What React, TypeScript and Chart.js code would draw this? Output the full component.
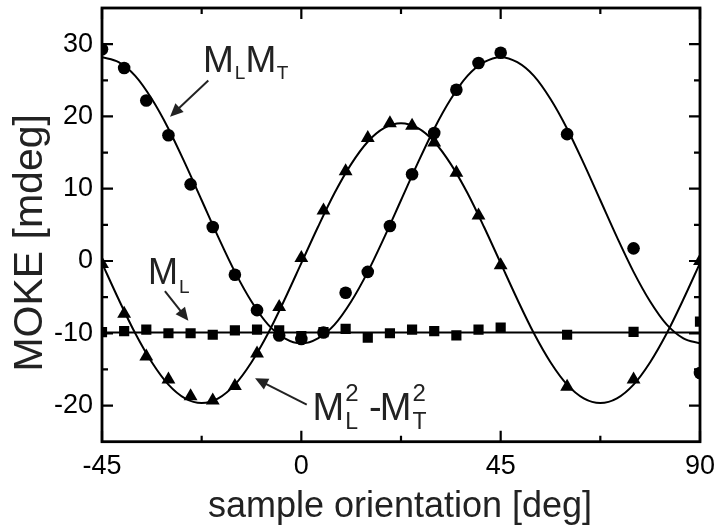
import React, { useEffect, useRef } from "react";
import { Chart, registerables } from "chart.js";

Chart.register(...registerables);

// ---- measured data (sample orientation in deg, MOKE in mdeg) ----
const ANGLES = [-45, -40, -35, -30, -25, -20, -15, -10, -5, 0, 5, 10, 15, 20, 25, 30, 35, 40, 45, 60, 75, 90];
const ML_MT = [29.3, 26.7, 22.2, 17.4, 10.6, 4.7, -1.9, -6.8, -10.3, -10.8, -9.9, -4.4, -1.5, 4.85, 12.0, 17.7, 23.7, 27.4, 28.8, 17.55, 1.75, -15.5];
const ML2_MT2 = [-0.4, -7.3, -13.2, -16.4, -18.7, -19.3, -17.3, -12.8, -6.35, 0.4, 7.0, 12.4, 17.0, 19.05, 18.7, 16.4, 12.2, 6.3, -0.6, -17.4, -16.4, 0];
const ML = [-9.85, -9.7, -9.5, -10.0, -10.0, -10.2, -9.6, -9.5, -9.6, -10.4, -9.85, -9.4, -10.6, -10.0, -9.5, -9.7, -10.3, -9.5, -9.2, -10.2, -9.8, -8.4];

// ---- fitted curves ----
const FIT_ANGLES = [-45, -41.25, -37.5, -33.75, -30, -26.25, -22.5, -18.75, -15, -11.25, -7.5, -3.75, 0, 3.75, 7.5, 11.25, 15, 18.75, 22.5, 26.25, 30, 33.75, 37.5, 41.25, 45, 48.75, 52.5, 56.25, 60, 63.75, 67.5, 71.25, 75, 78.75, 82.5, 86.25, 90];
const FIT_ML_MT = [28.2, 27.5, 25.6, 22.4, 18.3, 13.5, 8.4, 3.3, -1.5, -5.6, -8.8, -10.7, -11.4, -10.7, -8.8, -5.6, -1.5, 3.3, 8.4, 13.5, 18.3, 22.4, 25.6, 27.5, 28.2, 27.5, 25.6, 22.4, 18.3, 13.5, 8.4, 3.3, -1.5, -5.6, -8.8, -10.7, -11.4];
const FIT_ML2_MT2 = [-0.3, -5.3, -10.0, -14.0, -17.1, -19.0, -19.65, -19.0, -17.1, -14.0, -10.0, -5.3, -0.3, 4.7, 9.4, 13.4, 16.5, 18.4, 19.05, 18.4, 16.5, 13.4, 9.4, 4.7, -0.3, -5.3, -10.0, -14.0, -17.1, -19.0, -19.65, -19.0, -17.1, -14.0, -10.0, -5.3, -0.3];
const FIT_ML_ANGLES = [-45, 90];
const FIT_ML = [-9.9, -9.9];

// ---- axes ----
const X_MIN = -45;
const X_MAX = 90;
const Y_MIN = -25;
const Y_MAX = 35;
const X_TICKS = [-45, 0, 45, 90];
const X_MINOR = [-22.5, 22.5, 67.5];
const Y_TICKS = [-20, -10, 0, 10, 20, 30];
const Y_MINOR = [-15, -5, 5, 15, 25];

const X_TITLE = "sample orientation [deg]";
const Y_TITLE = "MOKE [mdeg]";

const FONT = '"Liberation Sans", Arial, Helvetica, sans-serif';
const TEXT = "#222";

type Part = { t?: string; size?: number; dy?: number; sup?: string; sub?: string; supSize?: number; subSize?: number; supDy?: number; subDy?: number; gap?: number };

function drawRich(ctx: CanvasRenderingContext2D, x0: number, y0: number, parts: Part[]) {
  let x = x0;
  ctx.textAlign = "left";
  ctx.textBaseline = "alphabetic";
  for (const p of parts) {
    if (p.gap) x += p.gap;
    if (p.t !== undefined) {
      ctx.font = `${p.size}px ${FONT}`;
      ctx.fillText(p.t, x, y0 + (p.dy || 0));
      x += ctx.measureText(p.t).width;
    } else {
      let w = 0;
      if (p.sup) {
        ctx.font = `${p.supSize}px ${FONT}`;
        ctx.fillText(p.sup, x, y0 + (p.supDy || 0));
        w = Math.max(w, ctx.measureText(p.sup).width);
      }
      if (p.sub) {
        ctx.font = `${p.subSize}px ${FONT}`;
        ctx.fillText(p.sub, x, y0 + (p.subDy || 0));
        w = Math.max(w, ctx.measureText(p.sub).width);
      }
      x += w;
    }
  }
}

function arrow(ctx: CanvasRenderingContext2D, x1: number, y1: number, x2: number, y2: number) {
  const ang = Math.atan2(y2 - y1, x2 - x1);
  const len = 13;
  const hw = 6;
  const bx = x2 - Math.cos(ang) * len;
  const by = y2 - Math.sin(ang) * len;
  ctx.beginPath();
  ctx.moveTo(x1, y1);
  ctx.lineTo(bx + Math.cos(ang) * 2, by + Math.sin(ang) * 2);
  ctx.stroke();
  ctx.beginPath();
  ctx.moveTo(x2, y2);
  ctx.lineTo(bx - Math.sin(ang) * hw, by + Math.cos(ang) * hw);
  ctx.lineTo(bx + Math.sin(ang) * hw, by - Math.cos(ang) * hw);
  ctx.closePath();
  ctx.fill();
}

const framePlugin = {
  id: "frameTicks",
  afterDatasetsDraw(chart: any) {
    const { ctx, chartArea: a, scales } = chart;
    const xs = scales.x;
    const ys = scales.y;
    ctx.save();
    ctx.strokeStyle = "#000";
    ctx.lineWidth = 2.8;
    ctx.strokeRect(a.left, a.top, a.right - a.left, a.bottom - a.top);
    ctx.lineWidth = 2.2;
    const xt = (vals: number[], len: number) => {
      for (const v of vals) {
        const px = xs.getPixelForValue(v);
        ctx.beginPath();
        ctx.moveTo(px, a.bottom);
        ctx.lineTo(px, a.bottom - len);
        ctx.moveTo(px, a.top);
        ctx.lineTo(px, a.top + len);
        ctx.stroke();
      }
    };
    const yt = (vals: number[], len: number) => {
      for (const v of vals) {
        const py = ys.getPixelForValue(v);
        ctx.beginPath();
        ctx.moveTo(a.left, py);
        ctx.lineTo(a.left + len, py);
        ctx.moveTo(a.right, py);
        ctx.lineTo(a.right - len, py);
        ctx.stroke();
      }
    };
    xt(X_TICKS, 11);
    xt(X_MINOR, 6);
    yt(Y_TICKS, 11);
    yt(Y_MINOR, 6);
    ctx.restore();
  },
  afterDraw(chart: any) {
    const { ctx, chartArea: a, scales } = chart;
    const xs = scales.x;
    const ys = scales.y;
    const X = (v: number) => xs.getPixelForValue(v);
    const Y = (v: number) => ys.getPixelForValue(v);
    ctx.save();
    ctx.fillStyle = TEXT;
    ctx.strokeStyle = TEXT;
    ctx.lineWidth = 2;

    // axis titles
    ctx.font = `36px ${FONT}`;
    ctx.textAlign = "center";
    ctx.textBaseline = "alphabetic";
    ctx.fillText(X_TITLE, (a.left + a.right) / 2 - 1, a.bottom + 75);
    ctx.save();
    ctx.translate(42, (a.top + a.bottom) / 2 + 18);
    ctx.rotate(-Math.PI / 2);
    ctx.font = `41px ${FONT}`;
    ctx.fillText(Y_TITLE, 0, 0);
    ctx.restore();

    // annotation: M_L M_T
    drawRich(ctx, X(-22.2), Y(26.2), [
      { t: "M", size: 37 },
      { gap: 1, t: "L", size: 19, dy: 7.3 },
      { t: "M", size: 37 },
      { gap: 0.5, t: "T", size: 19, dy: 7.3 },
    ]);
    arrow(ctx, X(-21.0), Y(24.97), X(-29.64), Y(19.97));

    // annotation: M_L
    drawRich(ctx, X(-34.6), Y(-3.25), [
      { t: "M", size: 36 },
      { gap: 1, t: "L", size: 19, dy: 8.4 },
    ]);
    arrow(ctx, X(-30.8), Y(-4.17), X(-25.5), Y(-8.26));

    // annotation: M_L^2 - M_T^2
    drawRich(ctx, X(2.53), Y(-22.0), [
      { t: "M", size: 38 },
      { gap: 1, sup: "2", supSize: 24, supDy: -19, sub: "L", subSize: 23, subDy: 9.3 },
      { gap: 0, t: " -", size: 38 },
      { gap: -2, t: "M", size: 38 },
      { gap: 1, sup: "2", supSize: 24, supDy: -19, sub: "T", subSize: 23, subDy: 9.3 },
    ]);
    arrow(ctx, X(1.22), Y(-19.88), X(-10.45), Y(-16.23));
    ctx.restore();
  },
};

export default function App() {
  const canvasRef = useRef<HTMLCanvasElement | null>(null);

  useEffect(() => {
    document.body.style.margin = "0";
    const canvas = canvasRef.current;
    if (!canvas) return;
    const pts = (xv: number[], yv: number[]) => xv.map((x, i) => ({ x, y: yv[i] }));
    const marker = (data: any[], style: string, radius: number) => ({
      data,
      showLine: false,
      pointStyle: style,
      pointRadius: radius,
      pointHoverRadius: radius,
      pointBackgroundColor: "#000",
      pointBorderColor: "#000",
      pointBorderWidth: 0,
      clip: 0,
    });
    const fit = (data: any[]) => ({
      data,
      showLine: true,
      borderColor: "#000",
      borderWidth: 2,
      pointRadius: 0,
      pointHoverRadius: 0,
      cubicInterpolationMode: "monotone",
      fill: false,
      clip: 0,
    });

    const chart = new Chart(canvas, {
      type: "scatter",
      data: {
        datasets: [
          marker(pts(ANGLES, ML_MT), "circle", 6.3),
          marker(pts(ANGLES, ML2_MT2), "triangle", 8),
          marker(pts(ANGLES, ML), "rect", 7.2),
          fit(pts(FIT_ANGLES, FIT_ML_MT)),
          fit(pts(FIT_ANGLES, FIT_ML2_MT2)),
          fit(pts(FIT_ML_ANGLES, FIT_ML)),
        ] as any,
      },
      options: {
        responsive: false,
        animation: false,
        events: [],
        layout: { padding: { top: 3.5, right: 18, left: 0, bottom: 0 } },
        plugins: { legend: { display: false }, tooltip: { enabled: false }, title: { display: false } },
        scales: {
          x: {
            type: "linear",
            min: X_MIN,
            max: X_MAX,
            grid: { display: false, drawTicks: false },
            border: { display: false },
            afterBuildTicks: (s: any) => {
              s.ticks = X_TICKS.map((v) => ({ value: v }));
            },
            afterFit: (s: any) => {
              s.height = 87.3;
              s.paddingLeft = 0;
              s.paddingRight = 0;
            },
            ticks: {
              font: { family: FONT, size: 27 },
              color: "#000",
              padding: 9,
              maxRotation: 0,
              autoSkip: false,
            },
          },
          y: {
            type: "linear",
            min: Y_MIN,
            max: Y_MAX,
            grid: { display: false, drawTicks: false },
            border: { display: false },
            afterBuildTicks: (s: any) => {
              s.ticks = Y_TICKS.map((v) => ({ value: v }));
            },
            afterFit: (s: any) => {
              s.width = 102;
              s.paddingTop = 0;
              s.paddingBottom = 0;
            },
            ticks: {
              font: { family: FONT, size: 27 },
              color: "#000",
              padding: 9,
              autoSkip: false,
            },
          },
        },
      } as any,
      plugins: [framePlugin as any],
    });
    return () => chart.destroy();
  }, []);

  return (
    <div style={{ width: 718, height: 529, background: "#fff" }}>
      <canvas ref={canvasRef} width={718} height={529} style={{ display: "block" }} />
    </div>
  );
}
